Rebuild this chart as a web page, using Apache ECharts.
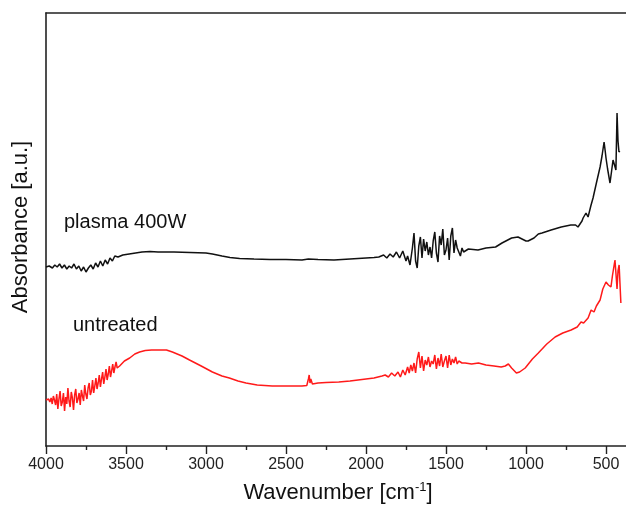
<!DOCTYPE html>
<html>
<head>
<meta charset="utf-8">
<script src="https://cdn.jsdelivr.net/npm/echarts@6/dist/echarts.min.js"></script>
<style>html,body{margin:0;padding:0;background:#fff;}#c{width:626px;height:507px;}</style>
</head>
<body>
<div id="c"></div>
<script>
// Wavenumber tick values (cm^-1)
const xTicks = [4000, 3500, 3000, 2500, 2000, 1500, 1000, 500];
const xMinorTicks = [3750, 3250, 2750, 2250, 1750, 1250, 750];

// plasma 400W spectrum (black)
const plasmaWn = [4000,3980,3960,3945,3930,3915,3900,3885,3870,3855,3840,3825,3810,3795,3780,3765,3750,3735,3720,3705,3690,3675,3660,3645,3630,3615,3600,3585,3570,3550,3520,3480,3440,3400,3350,3300,3200,3100,3000,2960,2900,2850,2790,2700,2600,2500,2400,2360,2300,2200,2100,2000,1950,1920,1890,1870,1850,1830,1810,1790,1770,1750,1740,1725,1710,1700,1690,1680,1670,1660,1650,1640,1630,1620,1610,1600,1590,1580,1570,1560,1550,1540,1530,1520,1510,1500,1490,1480,1470,1460,1450,1440,1430,1420,1410,1400,1390,1380,1360,1300,1250,1190,1150,1090,1050,1000,987,950,923,900,843,780,720,690,675,650,643,625,612,595,581,560,537,525,512,505,500,490,475,465,456,445,438,431,425,419,414];
const plasmaAbs = [184,185,183,186,184,187,183,186,182,185,183,187,182,185,180,184,179,183,186,182,188,184,190,185,191,187,193,190,195,194,196,197,198,199,199.5,199,199,198.5,198,197,195,193.5,192.5,192,191.5,191.5,191,192,191.5,191,192,193,193.5,194,196,193,197,194,199,193,200,190,195,186,203,218,190,183,205,214,193,212,200,209,196,204,193,210,219,198,189,215,206,222,196,201,213,191,215,223,198,211,203,205,195,203,199,201,202,201,203,204,208,213,214,210,210,213,217,218,221,224,226,226,224,230,233,238,234,245,253,268,284,295,309,300,293,282,268,280,291,285,281,338,310,299,300];

// untreated spectrum (red)
const untreatedWn = [4000,3992,3984,3976,3968,3961,3954,3947,3940,3933,3926,3919,3912,3905,3898,3891,3884,3877,3870,3863,3856,3849,3842,3835,3828,3821,3814,3807,3800,3793,3786,3779,3772,3765,3758,3751,3744,3737,3730,3723,3716,3709,3702,3695,3688,3681,3674,3667,3660,3653,3646,3639,3632,3625,3618,3611,3604,3597,3590,3583,3576,3569,3562,3555,3540,3510,3477,3445,3415,3380,3340,3300,3247,3210,3150,3103,3030,2960,2900,2854,2800,2750,2680,2586,2500,2400,2370,2360,2355,2350,2345,2335,2300,2250,2170,2100,2000,1950,1900,1880,1860,1840,1820,1800,1785,1770,1755,1740,1730,1720,1710,1700,1690,1680,1670,1660,1650,1640,1630,1620,1610,1600,1590,1580,1570,1560,1550,1540,1530,1520,1510,1500,1490,1480,1470,1460,1450,1440,1430,1420,1400,1380,1340,1297,1250,1200,1155,1130,1110,1090,1060,1040,1005,960,923,870,818,770,718,680,656,640,612,593,575,560,537,520,500,485,469,460,450,444,438,431,425,418,413,407];
const untreatedAbs = [51,50,52,49,53,47,55,51,46,57,42,52,60,45,49,58,40,54,47,63,50,44,59,53,41,56,62,48,52,58,46,61,55,50,66,57,52,63,68,56,60,71,58,65,73,62,68,76,64,72,79,67,74,82,71,77,85,74,80,87,78,84,89,83,85,90,93,97,99,100.5,101,101,101,99,95,91,85,79,75,73,70,68,66,65,65,65,65.5,72,76,68,72,67,68,68.5,69,70,72,73,75,76,74,78,75,79,74,81,76,84,78,86,80,88,78,92,99,83,95,80,91,86,94,84,90,87,96,82,93,85,97,84,90,95,83,96,86,92,88,94,87,90,88,88,87,88,86,85,84,85,87,83,78,79,83,92,98,107,114,118,121,124,129,128,133,141,139,145,151,162,169,166,164,175,185,191,178,162,180,186,186,148];

const seriesNames = ['plasma 400W', 'untreated'];
const xTitle = 'Wavenumber [cm{sup|-1}]';
const yTitle = 'Absorbance [a.u.]';

const zip = (a, b) => a.map((v, i) => [v, b[i]]);
const font = 'Liberation Sans, Arial, Helvetica, sans-serif';
const axisColor = '#222';
const X_MIN = 375, X_MAX = 4000;

const chart = echarts.init(document.getElementById('c'), null, {renderer: 'canvas'});
chart.setOption({
  animation: false,
  backgroundColor: '#fff',
  grid: {left: 46, right: 0, top: 13, bottom: 61, containLabel: false},
  xAxis: [{
    type: 'value', inverse: true, min: X_MIN, max: X_MAX, position: 'bottom',
    axisLine: {show: true, onZero: false, lineStyle: {color: axisColor, width: 1.6}},
    axisTick: {show: true, length: 8, customValues: xTicks, lineStyle: {color: axisColor, width: 1.4}},
    axisLabel: {fontFamily: font, fontSize: 16, color: '#222', margin: 11, customValues: xTicks,
      formatter: v => String(Math.round(v))},
    splitLine: {show: false}
  }, {
    type: 'value', inverse: true, min: X_MIN, max: X_MAX, position: 'bottom', offset: 0,
    axisLine: {show: false},
    axisTick: {show: true, length: 4, customValues: xMinorTicks, lineStyle: {color: axisColor, width: 1.4}},
    axisLabel: {show: false}, splitLine: {show: false}
  }, {
    type: 'value', inverse: true, min: X_MIN, max: X_MAX, position: 'top',
    axisLine: {show: true, onZero: false, lineStyle: {color: axisColor, width: 1.6}},
    axisTick: {show: false}, axisLabel: {show: false}, splitLine: {show: false}
  }],
  yAxis: {
    type: 'value', min: 5, max: 438,
    axisLine: {show: true, onZero: false, lineStyle: {color: axisColor, width: 1.6}},
    axisTick: {show: false}, axisLabel: {show: false}, splitLine: {show: false}
  },
  series: [{
    name: seriesNames[0], type: 'line', data: zip(plasmaWn, plasmaAbs),
    showSymbol: false, symbol: 'none', lineStyle: {color: '#111', width: 1.5}, clip: true
  }, {
    name: seriesNames[1], type: 'line', data: zip(untreatedWn, untreatedAbs),
    showSymbol: false, symbol: 'none', lineStyle: {color: '#ff1a1a', width: 1.5}, clip: true
  }],
  graphic: [
    {type: 'text', left: 64, top: 212, style: {text: seriesNames[0], font: '20px ' + font, fill: '#111'}},
    {type: 'text', left: 73, top: 315, style: {text: seriesNames[1], font: '20px ' + font, fill: '#111'}},
    {type: 'text', x: 338, y: 493, style: {
      text: xTitle, font: '22px ' + font, fill: '#111', align: 'center', verticalAlign: 'middle',
      rich: {sup: {fontFamily: font, fontSize: 13, fill: '#111', padding: [0, 0, 12, 0]}}
    }},
    {type: 'text', x: 21, y: 227, rotation: Math.PI / 2, style: {
      text: yTitle, font: '22px ' + font, fill: '#111', align: 'center', verticalAlign: 'middle'
    }}
  ]
});
</script>
</body>
</html>
